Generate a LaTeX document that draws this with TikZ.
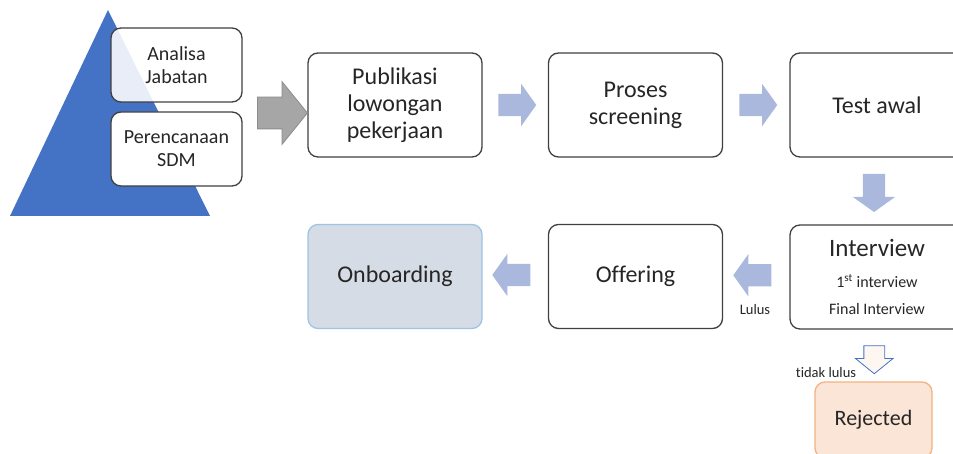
\documentclass[tikz,border=0pt]{standalone}
\usepackage{fontspec}
\setmainfont{Carlito}[Ligatures=NoCommon]
\usepackage{tikz}
\usetikzlibrary{calc,shapes.arrows}
\definecolor{pyrblue}{HTML}{4472C4}
\definecolor{flowblue}{HTML}{AAB8DE}
\definecolor{boxline}{HTML}{404040}
\definecolor{txtgray}{HTML}{262626}
\definecolor{boardfill}{HTML}{D6DCE5}
\definecolor{boardline}{HTML}{9DC3E6}
\definecolor{rejfill}{HTML}{FBE5D6}
\definecolor{rejline}{HTML}{F4B183}
\newcommand{\boxwd}{174pt}
\newcommand{\boxht}{104pt}

\begin{document}
\begin{tikzpicture}[x=1pt, y=-1pt,
    stepbox/.style = {draw=boxline, line width=1.3pt, rounded corners=10pt, fill=white,
        text=txtgray, align=center, inner sep=0pt,
        minimum width=\boxwd, minimum height=\boxht,
        font=\fontsize{24}{27}\selectfont},
    smallbox/.style = {stepbox, minimum width=131pt, minimum height=74pt,
        font=\fontsize{20}{23}\selectfont},
    flow/.style = {single arrow, draw=none, fill=flowblue, inner xsep=0pt, inner ysep=11pt,
        minimum height=38pt, single arrow head extend=10pt, single arrow tip angle=109},
    tag/.style = {text=txtgray, inner sep=0pt, font=\fontsize{14.5}{16}\selectfont}]

    \clip (0,0) rectangle (953,454);

%%%%        Pyramid
    \fill[pyrblue] (108,10) -- (210,216) -- (10,216) -- cycle;
    \node[smallbox, fill opacity=0.88, text opacity=1] (ana) at (176.5,65) {Analisa\\Jabatan};
    \node[smallbox] (per) at (176.5,149) {Perencanaan\\SDM};

%%%%        Top row
    \foreach\n/\x/\t in {pub/395/{Publikasi\\lowongan\\pekerjaan}, scr/635.5/{Proses\\screening}, tst/877/{Test awal}} {
        \node[stepbox] (\n) at (\x,105) {\t};
    }
%bottom row
    \node[stepbox] (int) at (877,277) {{\fontsize{25}{28}\selectfont Interview}\\[4pt]
        {\fontsize{16}{18}\selectfont 1\textsuperscript{st} interview}\\[0pt]
        {\fontsize{16}{18}\selectfont Final Interview}};
    \node[stepbox] (off) at (635.5,276.5) {Offering};
    \node[stepbox, fill=boardfill, draw=boardline] (onb) at (395,276.5) {Onboarding};
    \node[stepbox, fill=rejfill, draw=rejline, minimum width=117pt, minimum height=76pt,
        font=\fontsize{22}{25}\selectfont] (rej) at (873.5,420) {Rejected};

%%%%        Arrows
    \node[single arrow, fill=black!35, draw=black!45, line width=0.8pt, inner xsep=0pt,
        inner ysep=15.5pt, minimum height=50pt, single arrow head extend=15.5pt,
        single arrow tip angle=102] (start) at (276,113) {};
    \foreach\a/\b in {pub/scr,scr/tst} {
        \node[flow] (\a\b) at ($(\a.east)!0.5!(\b.west)+(-2,0)$) {};
    }
    \node[flow, shape border rotate=270, inner xsep=11pt, inner ysep=0pt] (tstint)
        at ($(tst.south)!0.5!(int.north)+(-3,-2)$) {};
    \foreach\a/\b in {int/off,off/onb} {
        \node[flow, shape border rotate=180] (\a\b) at ($(\a.west)!0.5!(\b.east)+(0,-1.5)$) {};
    }
    \node[single arrow, shape border rotate=270, fill=rejfill!35, draw=pyrblue, line width=0.8pt,
        inner xsep=10pt, inner ysep=0pt, minimum height=28pt, single arrow head extend=8.5pt,
        single arrow tip angle=102] (intrej) at ($(int.south)!0.5!(rej.north)+(-1,0)$) {};

%%%%        Labels
    \node[tag] (lulus) at (755,310) {Lulus};
    \node[tag] (tidak) at (826,373) {tidak lulus};
\end{tikzpicture}
\end{document}
